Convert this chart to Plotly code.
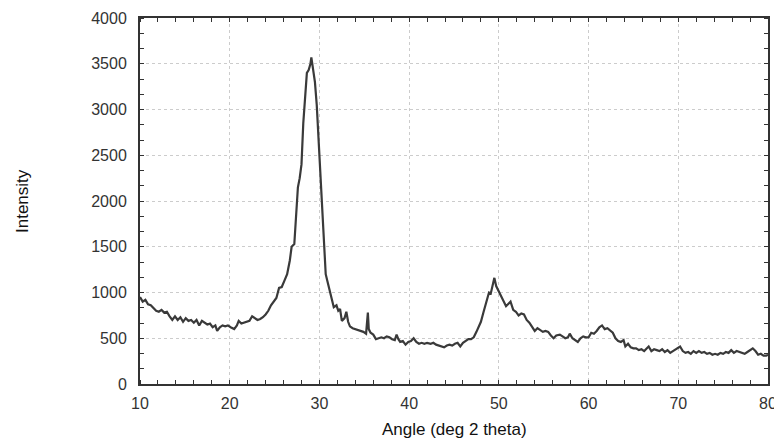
import plotly.graph_objects as go

angle = [10.0,10.3,10.6,10.9,11.2,11.5,11.8,12.1,12.4,12.7,13.0,13.3,13.6,13.9,14.2,14.5,14.8,15.1,15.4,15.7,
16.0,16.3,16.6,16.9,17.2,17.5,17.8,18.1,18.4,18.6,18.9,19.2,19.5,19.8,20.1,20.5,20.8,21.0,21.3,21.6,
21.9,22.2,22.5,22.8,23.1,23.4,23.7,24.0,24.3,24.6,24.9,25.2,25.5,25.8,26.1,26.4,26.7,26.9,27.2,27.4,
27.6,27.8,28.0,28.2,28.4,28.6,28.8,29.0,29.1,29.3,29.5,29.7,29.9,30.1,30.3,30.5,30.7,31.0,31.3,31.6,
31.9,32.1,32.3,32.5,32.8,33.0,33.2,33.4,33.7,34.0,34.3,34.6,34.9,35.2,35.4,35.5,35.7,36.0,36.3,36.6,
36.9,37.2,37.5,37.8,38.1,38.4,38.6,38.8,39.0,39.3,39.6,39.9,40.2,40.5,40.8,41.1,41.4,41.7,42.0,42.4,
42.7,43.0,43.3,43.6,43.9,44.2,44.5,44.8,45.1,45.4,45.7,46.0,46.3,46.6,46.9,47.2,47.5,47.8,48.0,48.3,
48.6,48.9,49.1,49.3,49.5,49.7,49.9,50.2,50.5,50.8,51.1,51.3,51.6,51.9,52.2,52.5,52.8,53.1,53.4,53.7,
54.0,54.3,54.6,54.9,55.2,55.5,55.8,56.1,56.4,56.8,57.1,57.4,57.7,57.9,58.2,58.5,58.8,59.1,59.4,59.7,
60.0,60.3,60.6,60.9,61.2,61.5,61.8,62.1,62.4,62.7,63.0,63.3,63.6,63.9,64.1,64.4,64.7,65.0,65.3,65.6,
65.9,66.2,66.5,66.7,67.0,67.3,67.6,67.9,68.2,68.5,68.8,69.1,69.4,69.7,70.0,70.2,70.5,70.8,71.1,71.4,
71.7,72.0,72.3,72.6,72.9,73.2,73.5,73.8,74.1,74.4,74.7,75.0,75.3,75.6,75.9,76.2,76.5,76.8,77.1,77.4,
77.7,78.0,78.3,78.6,78.9,79.2,79.5,79.8,80.0]

intensity = [950,900,920,870,860,830,800,790,810,780,790,740,700,740,700,730,680,720,690,700,
670,700,640,690,670,650,660,620,640,580,620,640,630,640,620,600,640,690,660,670,
680,690,740,720,700,710,730,760,800,860,900,940,1050,1060,1130,1200,1350,1500,1530,1800,
2150,2250,2400,2850,3150,3400,3430,3500,3570,3400,3300,3050,2650,2250,1850,1450,1200,1080,960,840,
860,800,820,690,720,790,680,630,610,600,590,580,570,550,780,600,560,540,490,500,
510,500,520,510,490,480,540,490,460,470,430,460,470,500,460,440,450,440,450,440,
450,430,420,410,400,420,430,420,440,450,410,450,470,490,490,510,570,650,680,790,
900,1000,990,1080,1160,1070,1030,980,920,850,880,900,810,790,750,770,760,700,670,630,
580,610,590,570,580,570,530,500,530,540,520,500,510,550,500,480,460,500,520,510,
510,560,550,580,620,640,600,610,580,560,500,470,460,480,410,440,400,390,390,370,
380,360,390,410,360,380,370,360,380,350,370,340,360,380,400,410,360,340,350,330,
360,340,360,340,350,330,340,320,330,320,340,330,350,340,370,340,360,350,340,330,
350,370,390,360,320,330,310,310,320]

x_ticks = [10, 20, 30, 40, 50, 60, 70, 80]
y_ticks = [0, 500, 1000, 1500, 2000, 2500, 3000, 3500, 4000]

FONT = "Liberation Sans, Arial, sans-serif"

fig = go.Figure()
fig.add_trace(go.Scatter(x=angle, y=intensity, mode="lines",
                         line=dict(color="#3a3a3a", width=2.2), showlegend=False))

axis_common = dict(
    showline=True, linecolor="#333333", linewidth=2, mirror="allticks",
    showgrid=True, gridcolor="#cccccc", griddash="dot", gridwidth=1,
    zeroline=False, ticks="", ticklen=0, automargin=False,
    tickfont=dict(family=FONT, size=16, color="#333333"),
)

fig.update_xaxes(range=[10, 80], tickvals=x_ticks, ticktext=[str(v) for v in x_ticks],
                 ticklabelstandoff=4,
                 minor=dict(dtick=2, tick0=10, ticks="inside", ticklen=4, tickcolor="#333333",
                            tickwidth=1, showgrid=False),
                 **axis_common)
fig.update_yaxes(range=[0, 4000], tickvals=y_ticks, ticktext=[str(v) for v in y_ticks],
                 ticklabelstandoff=8,
                 minor=dict(dtick=500/3, tick0=0, ticks="inside", ticklen=4, tickcolor="#333333",
                            tickwidth=1, showgrid=False),
                 **axis_common)

# page body has an 8px margin; plot area target: x 140..768, y 18..384
fig.update_layout(
    width=774, height=436,
    margin=dict(l=132, r=14, t=10, b=60),
    plot_bgcolor="white", paper_bgcolor="white",
    annotations=[
        dict(text="Angle (deg 2 theta)", xref="paper", yref="paper",
             x=0.5, y=-(430 - 384) / 366, xanchor="center", yanchor="middle",
             showarrow=False, font=dict(family=FONT, size=17, color="#111111")),
        dict(text="Intensity", xref="paper", yref="paper",
             x=(22 - 140) / 628, y=0.5, xanchor="center", yanchor="middle",
             textangle=-90, showarrow=False,
             font=dict(family=FONT, size=17, color="#111111")),
    ],
)

fig.write_html("out.html")
